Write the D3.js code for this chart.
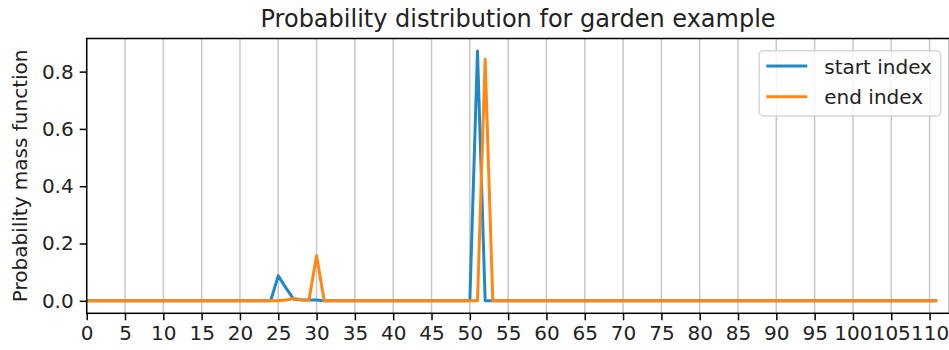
<!DOCTYPE html>
<html>
<head>
<meta charset="utf-8">
<script src="https://cdn.jsdelivr.net/npm/d3@7"></script>
<style>
  body { margin: 0; background: #fff; }
  svg { display: block; font-family: "DejaVu Sans", sans-serif; }
</style>
</head>
<body>
<div id="chart"></div>
<script>
// probability per token index (0..111)
var startIndex = [
  0, 0, 0, 0, 0, 0, 0, 0, 0, 0, 0, 0, 0, 0, 0, 0,
  0, 0, 0, 0, 0, 0, 0, 0, 0, 0.087, 0.045, 0.006, 0.004, 0.003, 0.003, 0,
  0, 0, 0, 0, 0, 0, 0, 0, 0, 0, 0, 0, 0, 0, 0, 0,
  0, 0, 0, 0.872, 0, 0, 0, 0, 0, 0, 0, 0, 0, 0, 0, 0,
  0, 0, 0, 0, 0, 0, 0, 0, 0, 0, 0, 0, 0, 0, 0, 0,
  0, 0, 0, 0, 0, 0, 0, 0, 0, 0, 0, 0, 0, 0, 0, 0,
  0, 0, 0, 0, 0, 0, 0, 0, 0, 0, 0, 0, 0, 0, 0, 0
];
var endIndex = [
  0, 0, 0, 0, 0, 0, 0, 0, 0, 0, 0, 0, 0, 0, 0, 0,
  0, 0, 0, 0, 0, 0, 0, 0, 0, 0, 0.003, 0.008, 0.003, 0.002, 0.157, 0,
  0, 0, 0, 0, 0, 0, 0, 0, 0, 0, 0, 0, 0, 0, 0, 0,
  0, 0, 0, 0, 0.843, 0, 0, 0, 0, 0, 0, 0, 0, 0, 0, 0,
  0, 0, 0, 0, 0, 0, 0, 0, 0, 0, 0, 0, 0, 0, 0, 0,
  0, 0, 0, 0, 0, 0, 0, 0, 0, 0, 0, 0, 0, 0, 0, 0,
  0, 0, 0, 0, 0, 0, 0, 0, 0, 0, 0, 0, 0, 0, 0, 0
];
var seriesNames = ["start index", "end index"];
var xTicks = d3.range(0, 111, 5);
var yTicks = [0, 0.2, 0.4, 0.6, 0.8];

var width = 949, height = 350;
var margin = {top: 38.5, right: -0.5, bottom: 36.7, left: 86.7};
var colors = ["#1f88c6", "#ff8712"];

var svg = d3.select("#chart").append("svg")
  .attr("width", width)
  .attr("height", height);

var x = d3.scaleLinear().domain([0, 112.6]).range([margin.left, width - margin.right]);
var y = d3.scaleLinear().domain([-0.0436, 0.9156]).range([height - margin.bottom, margin.top]);

svg.append("clipPath").attr("id", "plotclip")
  .append("rect")
  .attr("x", margin.left).attr("y", margin.top)
  .attr("width", width - margin.right - margin.left)
  .attr("height", height - margin.bottom - margin.top);

// vertical grid
svg.append("g").selectAll("line").data(xTicks).enter().append("line")
  .attr("x1", function(d) { return x(d); })
  .attr("x2", function(d) { return x(d); })
  .attr("y1", margin.top)
  .attr("y2", height - margin.bottom)
  .attr("stroke", "#c8c8c8")
  .attr("stroke-width", 1.5);

// lines
var line = d3.line()
  .x(function(d, i) { return x(i); })
  .y(function(d) { return y(d); });

var series = [startIndex, endIndex];
svg.append("g").attr("clip-path", "url(#plotclip)")
  .selectAll("path").data(series).enter().append("path")
  .attr("d", line)
  .attr("fill", "none")
  .attr("stroke", function(d, i) { return colors[i]; })
  .attr("stroke-width", 3)
  .attr("stroke-linejoin", "round");

// axes
var xAxis = svg.append("g")
  .attr("transform", "translate(0," + (height - margin.bottom) + ")")
  .call(d3.axisBottom(x).tickValues(xTicks).tickSize(7).tickPadding(6).tickFormat(d3.format("d")));
var yAxis = svg.append("g")
  .attr("transform", "translate(" + margin.left + ",0)")
  .call(d3.axisLeft(y).tickValues(yTicks).tickSize(7).tickPadding(6).tickFormat(d3.format(".1f")));

[xAxis, yAxis].forEach(function(a) {
  a.select(".domain").remove();
  a.selectAll(".tick line").attr("stroke", "#000").attr("stroke-width", 1.5);
  a.selectAll(".tick text")
    .attr("fill", "#222")
    .style("font-size", "20px")
    .style("font-family", "DejaVu Sans");
});

// spines
svg.append("rect")
  .attr("x", margin.left).attr("y", margin.top)
  .attr("width", width - margin.right - margin.left)
  .attr("height", height - margin.bottom - margin.top)
  .attr("fill", "none")
  .attr("stroke", "#000")
  .attr("stroke-width", 1.5);

// title
svg.append("text")
  .attr("x", (margin.left + width - margin.right) / 2)
  .attr("y", 26.5)
  .attr("text-anchor", "middle")
  .style("font-size", "24px")
  .attr("fill", "#222")
  .text("Probability distribution for garden example");

// y label
svg.append("text")
  .attr("transform", "translate(27," + ((margin.top + height - margin.bottom) / 2) + ") rotate(-90)")
  .attr("text-anchor", "middle")
  .style("font-size", "20px")
  .attr("fill", "#222")
  .text("Probability mass function");

// legend
var legend = svg.append("g").attr("transform", "translate(759.3,50.7)");
legend.append("rect")
  .attr("width", 181.4).attr("height", 65.3)
  .attr("rx", 4)
  .attr("fill", "#fff").attr("fill-opacity", 0.8)
  .attr("stroke", "#d6d6d6").attr("stroke-width", 1.5);

var item = legend.selectAll(".item").data(seriesNames).enter().append("g")
  .attr("class", "item")
  .attr("transform", function(d, i) { return "translate(0," + (15.3 + i * 30.7) + ")"; });
item.append("line")
  .attr("x1", 7).attr("x2", 48)
  .attr("stroke", function(d, i) { return colors[i]; })
  .attr("stroke-width", 3);
item.append("text")
  .attr("x", 65).attr("y", 7.5)
  .style("font-size", "20px")
  .attr("fill", "#222")
  .text(function(d) { return d; });
</script>
</body>
</html>
